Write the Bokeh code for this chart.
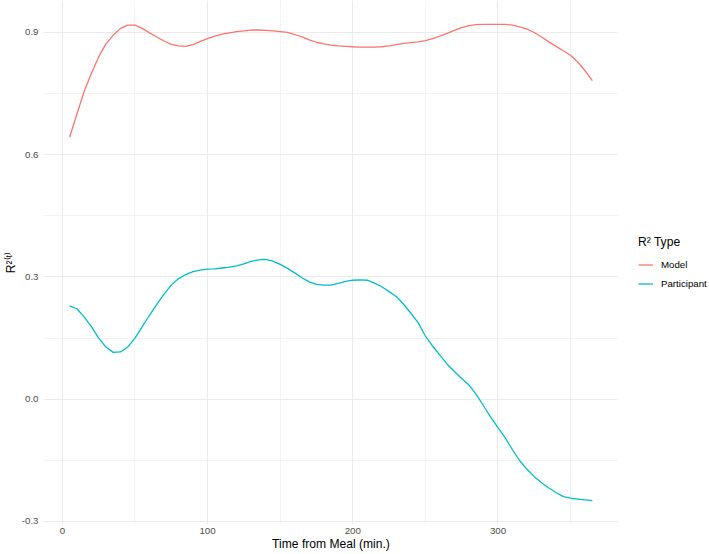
from bokeh.plotting import figure
from bokeh.layouts import row
from bokeh.models import Range1d, FixedTicker, Legend, LegendItem, PrintfTickFormatter
from bokeh.embed import file_html
from bokeh.resources import INLINE

# ---- data ----
time_min = [5, 10, 15, 20, 25, 30, 35, 40, 45, 50, 55, 60, 65, 70, 75, 80, 85, 90, 95, 100,
            105, 110, 115, 120, 125, 130, 135, 140, 145, 150, 155, 160, 165, 170, 175, 180,
            185, 190, 195, 200, 205, 210, 215, 220, 225, 230, 235, 240, 245, 250, 255, 260,
            265, 270, 275, 280, 285, 290, 295, 300, 305, 310, 315, 320, 325, 330, 335, 340,
            345, 350, 355, 360, 365]

model_r2 = [0.643, 0.700, 0.755, 0.800, 0.840, 0.872, 0.893, 0.910, 0.918, 0.918,
            0.910, 0.899, 0.889, 0.879, 0.871, 0.867, 0.866, 0.870, 0.878, 0.885,
            0.891, 0.896, 0.899, 0.902, 0.904, 0.906, 0.906, 0.905, 0.904, 0.902,
            0.900, 0.895, 0.889, 0.882, 0.876, 0.872, 0.869, 0.867, 0.866, 0.865,
            0.864, 0.864, 0.864, 0.865, 0.867, 0.870, 0.873, 0.875, 0.877, 0.880,
            0.885, 0.891, 0.898, 0.905, 0.912, 0.917, 0.919, 0.920, 0.920, 0.920,
            0.920, 0.918, 0.914, 0.908, 0.900, 0.889, 0.877, 0.866, 0.855, 0.844,
            0.827, 0.806, 0.782]

participant_r2 = [0.229, 0.222, 0.202, 0.178, 0.150, 0.128, 0.115, 0.116, 0.128, 0.150,
                  0.178, 0.206, 0.233, 0.258, 0.280, 0.296, 0.306, 0.313, 0.317, 0.319,
                  0.320, 0.322, 0.324, 0.327, 0.332, 0.338, 0.342, 0.343, 0.339, 0.331,
                  0.321, 0.310, 0.298, 0.288, 0.282, 0.280, 0.280, 0.284, 0.289, 0.292,
                  0.293, 0.292, 0.285, 0.276, 0.264, 0.252, 0.233, 0.211, 0.188, 0.155,
                  0.130, 0.108, 0.086, 0.068, 0.051, 0.035, 0.012, -0.016, -0.044, -0.070,
                  -0.095, -0.124, -0.151, -0.172, -0.190, -0.205, -0.218, -0.229, -0.239,
                  -0.243, -0.245, -0.247, -0.249]

series_names = ["Model", "Participant"]
series_colors = ["#F8766D", "#00BFC4"]

x_ticks = [0, 100, 200, 300]
x_minor_ticks = [50, 150, 250, 350]
y_ticks = [-0.3, 0.0, 0.3, 0.6, 0.9]
y_minor_ticks = [-0.15, 0.15, 0.45, 0.75]

x_title = "Time from Meal (min.)"
y_title = "R\u00b2\u207d\u1d57\u207e"
legend_title = "R\u00b2 Type"

FONT = "Liberation Sans"

# ggplot-like 5% expansion of the data range
xmin, xmax = min(time_min), max(time_min)
xpad = 0.05 * (xmax - xmin)
all_y = model_r2 + participant_r2
ymin, ymax = min(all_y), max(all_y)
ypad = 0.05 * (ymax - ymin)

# ---- main panel ----
p = figure(width=618, height=554, output_backend="svg", toolbar_location=None,
           x_range=Range1d(xmin - xpad, xmax + xpad),
           y_range=Range1d(ymin - ypad, ymax + ypad),
           min_border_left=43, min_border_right=0, min_border_top=0, min_border_bottom=30)

p.background_fill_color = "white"
p.border_fill_color = "white"
p.outline_line_color = None

p.line(time_min, model_r2, line_color=series_colors[0], line_width=1.3)
p.line(time_min, participant_r2, line_color=series_colors[1], line_width=1.3)

p.xaxis.ticker = FixedTicker(ticks=x_ticks, minor_ticks=x_minor_ticks)
p.yaxis.ticker = FixedTicker(ticks=y_ticks, minor_ticks=y_minor_ticks)
p.yaxis.formatter = PrintfTickFormatter(format="%.1f")

for ax in (p.xaxis[0], p.yaxis[0]):
    ax.axis_line_color = None
    ax.major_tick_line_color = None
    ax.minor_tick_line_color = None
    ax.major_tick_in = 0
    ax.major_tick_out = 0
    ax.minor_tick_in = 0
    ax.minor_tick_out = 0
    ax.major_label_text_font = FONT
    ax.major_label_text_font_size = "9.7px"
    ax.major_label_text_color = "#4D4D4D"
    ax.axis_label_text_font = FONT
    ax.axis_label_text_font_size = "12.1px"
    ax.axis_label_text_font_style = "normal"
    ax.axis_label_text_color = "black"

p.xaxis.axis_label = x_title
p.xaxis.major_label_standoff = 3
p.xaxis.axis_label_standoff = 0
p.yaxis.axis_label = y_title
p.yaxis.major_label_standoff = 5
p.yaxis.axis_label_standoff = 1

for g in (p.xgrid[0], p.ygrid[0]):
    g.grid_line_color = "#EBEBEB"
    g.grid_line_width = 1.1
    g.minor_grid_line_color = "#EBEBEB"
    g.minor_grid_line_width = 0.6

# ---- legend panel (right side) ----
# its ranges keep the series out of view, so only the legend keys show
q = figure(width=91, height=554, output_backend="svg", toolbar_location=None,
           x_range=Range1d(-2, -1), y_range=Range1d(-2, -1),
           x_axis_location=None, y_axis_location=None,
           min_border_left=0, min_border_right=0, min_border_top=0, min_border_bottom=0)
q.outline_line_color = None
q.xgrid.visible = False
q.ygrid.visible = False
q.background_fill_color = "white"
q.border_fill_color = "white"

key_model = q.line(time_min, model_r2, line_color=series_colors[0], line_width=1.3)
key_part = q.line(time_min, participant_r2, line_color=series_colors[1], line_width=1.3)

legend = Legend(items=[LegendItem(label=series_names[0], renderers=[key_model]),
                       LegendItem(label=series_names[1], renderers=[key_part])],
                title=legend_title, location=(20, 231))
legend.margin = 0
legend.padding = 0
legend.spacing = 0
legend.glyph_width = 15
legend.glyph_height = 19
legend.label_height = 19
legend.label_standoff = 8
legend.title_standoff = 6
legend.border_line_color = None
legend.background_fill_alpha = 0
legend.title_text_font = FONT
legend.title_text_font_size = "12.1px"
legend.title_text_font_style = "normal"
legend.title_text_color = "black"
legend.label_text_font = FONT
legend.label_text_font_size = "9.7px"
legend.label_text_color = "black"
q.add_layout(legend, "center")

layout = row(p, q, spacing=0)
open("out.html", "w").write(file_html(layout, INLINE))
